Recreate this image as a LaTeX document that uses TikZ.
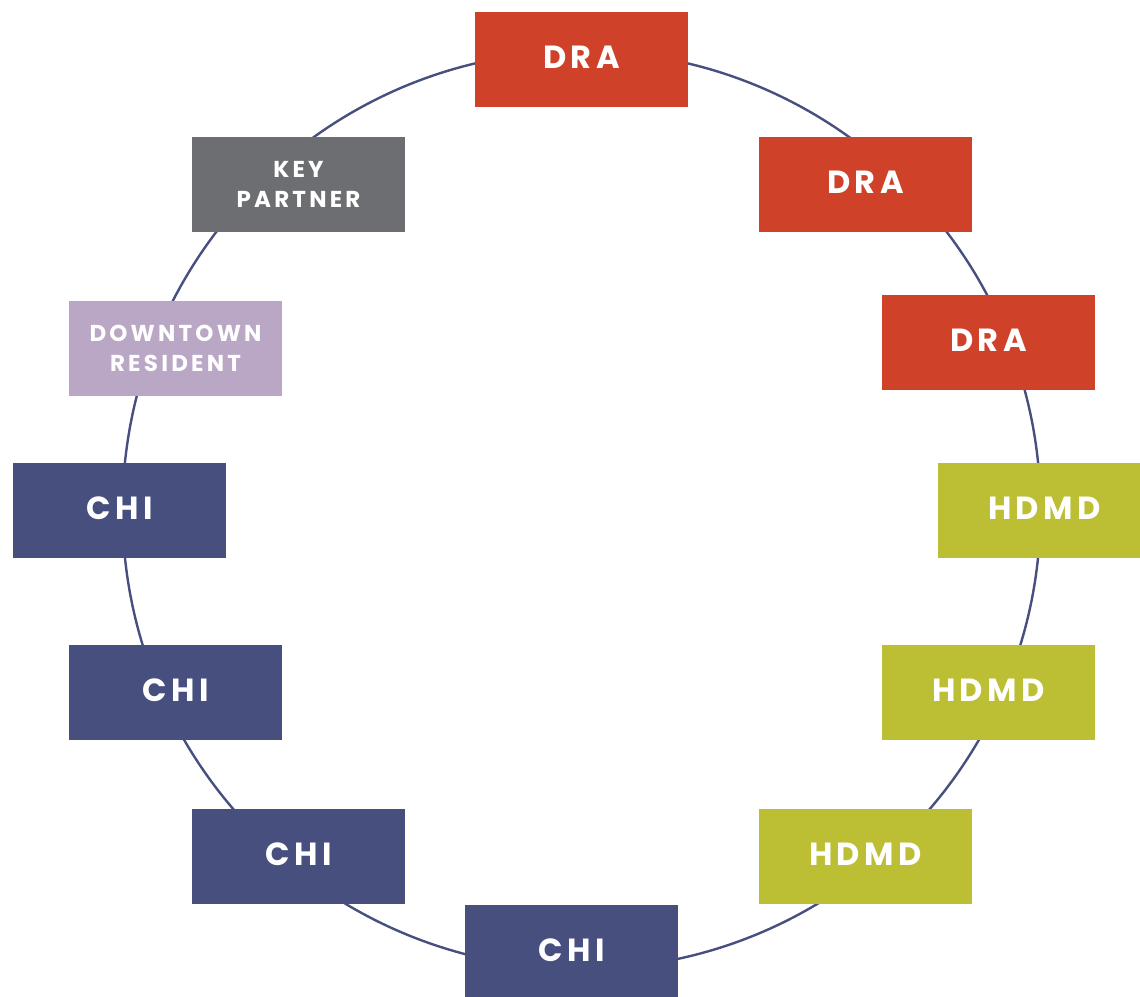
\documentclass[tikz,border=0pt]{standalone}
\usepackage{fontspec}
\newfontfamily\labfont{Poppins}[LetterSpace=14]
\definecolor{cred}{HTML}{CF4128}
\definecolor{cgrey}{HTML}{6D6E72}
\definecolor{clav}{HTML}{BAA7C6}
\definecolor{cnavy}{HTML}{474F7F}
\definecolor{colive}{HTML}{BCBF33}
\tikzset{
  box/.style={rectangle, minimum width=213pt, minimum height=95pt, inner sep=0pt, text=white, align=center},
  big/.style={box, text depth=5pt, font=\labfont\bfseries\fontsize{32}{32}\selectfont},
  small/.style={box, font=\labfont\bfseries\fontsize{23}{29.5}\selectfont},
  ring/.style={draw=cnavy, line width=2.4pt}
}
\begin{document}
\begin{tikzpicture}[x=1pt,y=-1pt]
\useasboundingbox (0,0) rectangle (1140,996);
\clip (0,0) rectangle (1140,996);
\draw[ring] (581.5,510) circle[radius=459];
\node[big, fill=cred] (dra1) at (581.5,59.5) {DRA};
\node[big, fill=cred] (dra2) at (865.5,184.5) {DRA};
\node[big, fill=cred] (dra3) at (988.5,342.5) {DRA};
\node[big, fill=colive] (hdmd1) at (1044.5,510.5) {HDMD};
\node[big, fill=colive] (hdmd2) at (988.5,692.5) {HDMD};
\node[big, fill=colive] (hdmd3) at (865.5,856.5) {HDMD};
\node[big, fill=cnavy] (chi1) at (571.5,952.5) {CHI};
\node[big, fill=cnavy] (chi2) at (298.5,856.5) {CHI};
\node[big, fill=cnavy] (chi3) at (175.5,692.5) {CHI};
\node[big, fill=cnavy] (chi4) at (119.5,510.5) {CHI};
\node[small, fill=clav] (res) at (175.5,348.5) {DOWNTOWN\\RESIDENT};
\node[small, fill=cgrey] (key) at (298.5,184.5) {KEY\\PARTNER};
\end{tikzpicture}
\end{document}
